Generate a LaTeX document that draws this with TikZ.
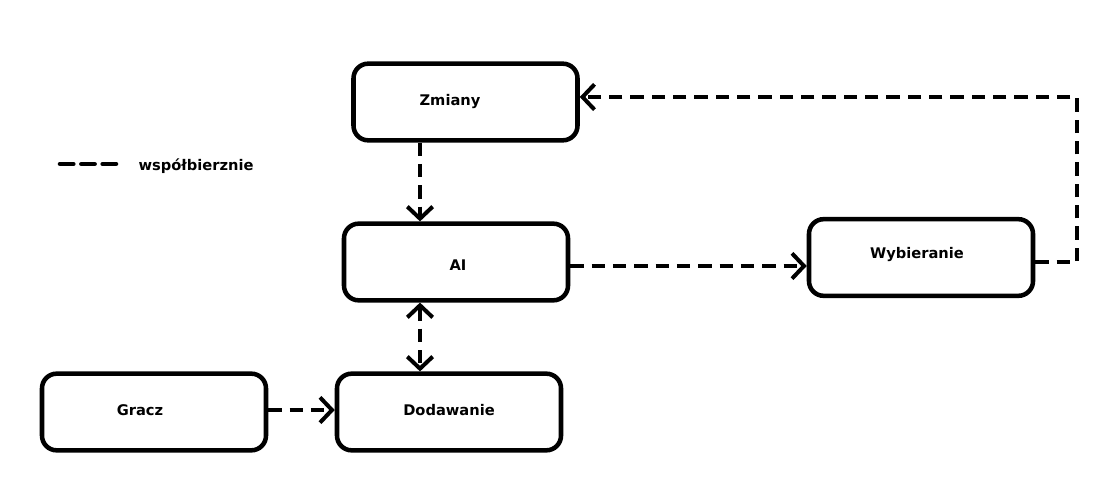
\documentclass[tikz,border=0pt]{standalone}
\usepackage{fontspec}
\setmainfont{DejaVu Sans}
\usetikzlibrary{arrows.meta}
\begin{document}
\begin{tikzpicture}[x=0.75pt,y=-0.75pt,
  box/.style={draw=black,line width=3.4pt,rounded corners=11pt,minimum width=168pt,minimum height=57.5pt,inner sep=0pt},
  lbl/.style={font=\bfseries\fontsize{11pt}{13pt}\selectfont,inner sep=0pt},
  conn/.style={line width=3.4pt,dash pattern=on 10pt off 6pt},
  tip/.style={-{Straight Barb[length=9pt,width=19pt,line width=3pt]}},
  tips/.style={{Straight Barb[length=9pt,width=19pt,line width=3pt]}-{Straight Barb[length=9pt,width=19pt,line width=3pt]}}]
\useasboundingbox (0,0) rectangle (1109,477);
\node[box] (zm) at (465.5,102) {};
\node[box] (ai) at (456,262) {};
\node[box] (wy) at (921,257.5) {};
\node[box] (gr) at (154,412) {};
\node[box] (do) at (449,412) {};
\node[lbl] (tzm) at (450,102) {Zmiany};
\node[lbl] (tai) at (458,265) {AI};
\node[lbl] (twy) at (917,255) {Wybieranie};
\node[lbl] (tgr) at (140,410) {Gracz};
\node[lbl] (tdo) at (449,410) {Dodawanie};
\coordinate (x420) at (420,0);
\coordinate (y266) at (0,266);
\coordinate (y262) at (0,262);
\coordinate (y97) at (0,97);
\coordinate (y410) at (0,410);
\coordinate (k1) at (1077,262);
\coordinate (k2) at (1077,97);
\draw[conn,tip] (zm.south -| x420) -- (ai.north -| x420);
\draw[conn,tip] (ai.east |- y266) -- (wy.west |- y266);
\draw[conn,tip] (wy.east |- y262) -- (k1) -- (k2) -- (zm.east |- y97);
\draw[conn,tips] (ai.south -| x420) -- (do.north -| x420);
\draw[conn,tip] (gr.east |- y410) -- (do.west |- y410);
\coordinate (l1) at (60,164);
\coordinate (l2) at (118,164);
\draw[line width=3.4pt,line cap=round,dash pattern=on 10pt off 6pt] (l1) -- (l2);
\node[lbl] (tleg) at (196,166) {współbierznie};
\end{tikzpicture}
\end{document}
